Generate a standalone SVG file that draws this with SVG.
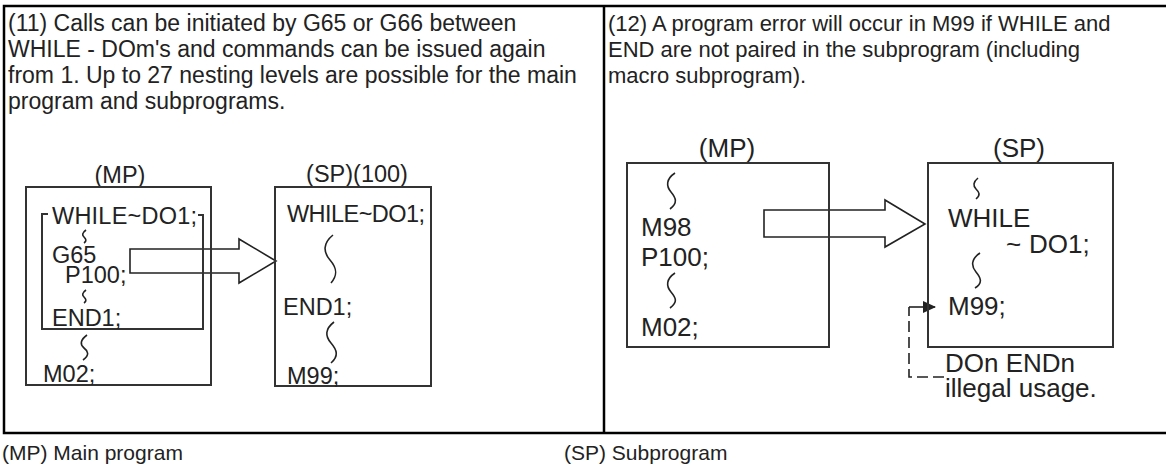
<svg xmlns="http://www.w3.org/2000/svg" width="1166" height="466" viewBox="0 0 1166 466">
<style>
text{font-family:"Liberation Sans",Arial,sans-serif;fill:#222}
.h{font-size:22px}
.hl{font-size:23px}
.l{font-size:23.5px}
.r{font-size:26px}
.f{font-size:21px}
.box{fill:none;stroke:#333;stroke-width:2}
.sq{fill:none;stroke:#222;stroke-width:1.6}
.blk{fill:#fff;stroke:#222;stroke-width:1.6;stroke-linejoin:miter}
.frame{fill:none;stroke:#000;stroke-width:2.5}
</style>
<defs>
<marker id="tri" markerWidth="13" markerHeight="12" refX="12" refY="6" orient="auto" markerUnits="userSpaceOnUse"><path d="M0,0 L13,6 L0,12 Z" fill="#222"/></marker>
</defs>
<g id="frame">
<rect class="frame" x="4" y="6" width="1164" height="427"/>
<line class="frame" x1="604" y1="6" x2="604" y2="433"/>
</g>
<g id="text11">
<text class="hl" x="8" y="31">(11) Calls can be initiated by G65 or G66 between</text>
<text class="hl" x="8" y="57">WHILE - DOm's and commands can be issued again</text>
<text class="hl" x="8" y="83">from 1. Up to 27 nesting levels are possible for the main</text>
<text class="hl" x="8" y="109">program and subprograms.</text>
</g>
<g id="text12">
<text class="h" x="608" y="31">(12) A program error will occur in M99 if WHILE and</text>
<text class="h" x="608" y="57">END are not paired in the subprogram (including</text>
<text class="h" x="608" y="83">macro subprogram).</text>
</g>
<g id="connectors">
<polygon class="blk" points="130,249 239,249 239,239 276,261 239,283 239,273 130,273"/>
<polygon class="blk" points="764,210 885,210 885,200 925,224 885,247 885,237 764,237"/>
<polyline points="909,307 935,307" fill="none" stroke="#222" stroke-width="1.6" marker-end="url(#tri)"/>
<polyline points="944,377 909,377 909,307" fill="none" stroke="#222" stroke-width="1.6" stroke-dasharray="11,5"/>
</g>
<g id="mp-left">
<text class="l" x="120" y="183" text-anchor="middle">(MP)</text>
<rect class="box" x="26" y="187" width="185" height="198"/>
<path class="box" d="M48,214 H42 V329 H203 V215 H198"/>
<text class="l" x="52" y="224" textLength="145">WHILE~DO1;</text>
<path class="sq" d="M86,230 C82,233 82,235 84,237 S87,241 84,243"/>
<text class="l" x="52" y="263">G65</text>
<text class="l" x="65" y="283">P100;</text>
<path class="sq" d="M86,290 C82,293 82,295 84,297 S87,301 84,303"/>
<text class="l" x="52" y="326">END1;</text>
<path class="sq" d="M87,335 C80,340 80,345 84,348 S90,355 83,360"/>
<text class="l" x="43" y="382">M02;</text>
</g>
<g id="sp-left">
<text class="l" x="357" y="182" text-anchor="middle">(SP)(100)</text>
<rect class="box" x="275" y="187" width="156" height="199"/>
<text class="l" x="287" y="222" textLength="138">WHILE~DO1;</text>
<path class="sq" d="M333,235 C323,243 323,252 330,260 S338,275 331,283"/>
<text class="l" x="283" y="315">END1;</text>
<path class="sq" d="M334,322 C325,329 325,336 331,343 S339,356 331,363"/>
<text class="l" x="287" y="384">M99;</text>
</g>
<g id="mp-right">
<text class="r" x="727" y="157" text-anchor="middle">(MP)</text>
<rect class="box" x="627" y="163" width="202" height="184"/>
<path class="sq" d="M675,173 C666,179 666,186 671,192 S678,203 670,209"/>
<text class="r" x="641" y="236">M98</text>
<text class="r" x="641" y="266">P100;</text>
<path class="sq" d="M675,273 C666,279 666,286 671,292 S678,302 670,308"/>
<text class="r" x="641" y="336">M02;</text>
</g>
<g id="sp-right">
<text class="r" x="1019" y="157" text-anchor="middle">(SP)</text>
<rect class="box" x="928" y="163" width="185" height="184"/>
<path class="sq" d="M978,178 C973,182 973,186 976,189 S981,195 976,199"/>
<text class="r" x="948" y="227">WHILE</text>
<text class="r" y="253"><tspan x="1006">~</tspan><tspan x="1029">DO1;</tspan></text>
<path class="sq" d="M980,253 C971,259 971,266 976,272 S983,283 975,288"/>
<text class="r" x="948" y="315">M99;</text>
<text class="r" x="945" y="372">DOn ENDn</text>
<text class="r" x="945" y="397">illegal usage.</text>
</g>
<g id="footer">
<text class="f" x="2" y="460">(MP) Main program</text>
<text class="f" x="564" y="460">(SP) Subprogram</text>
</g>
</svg>
